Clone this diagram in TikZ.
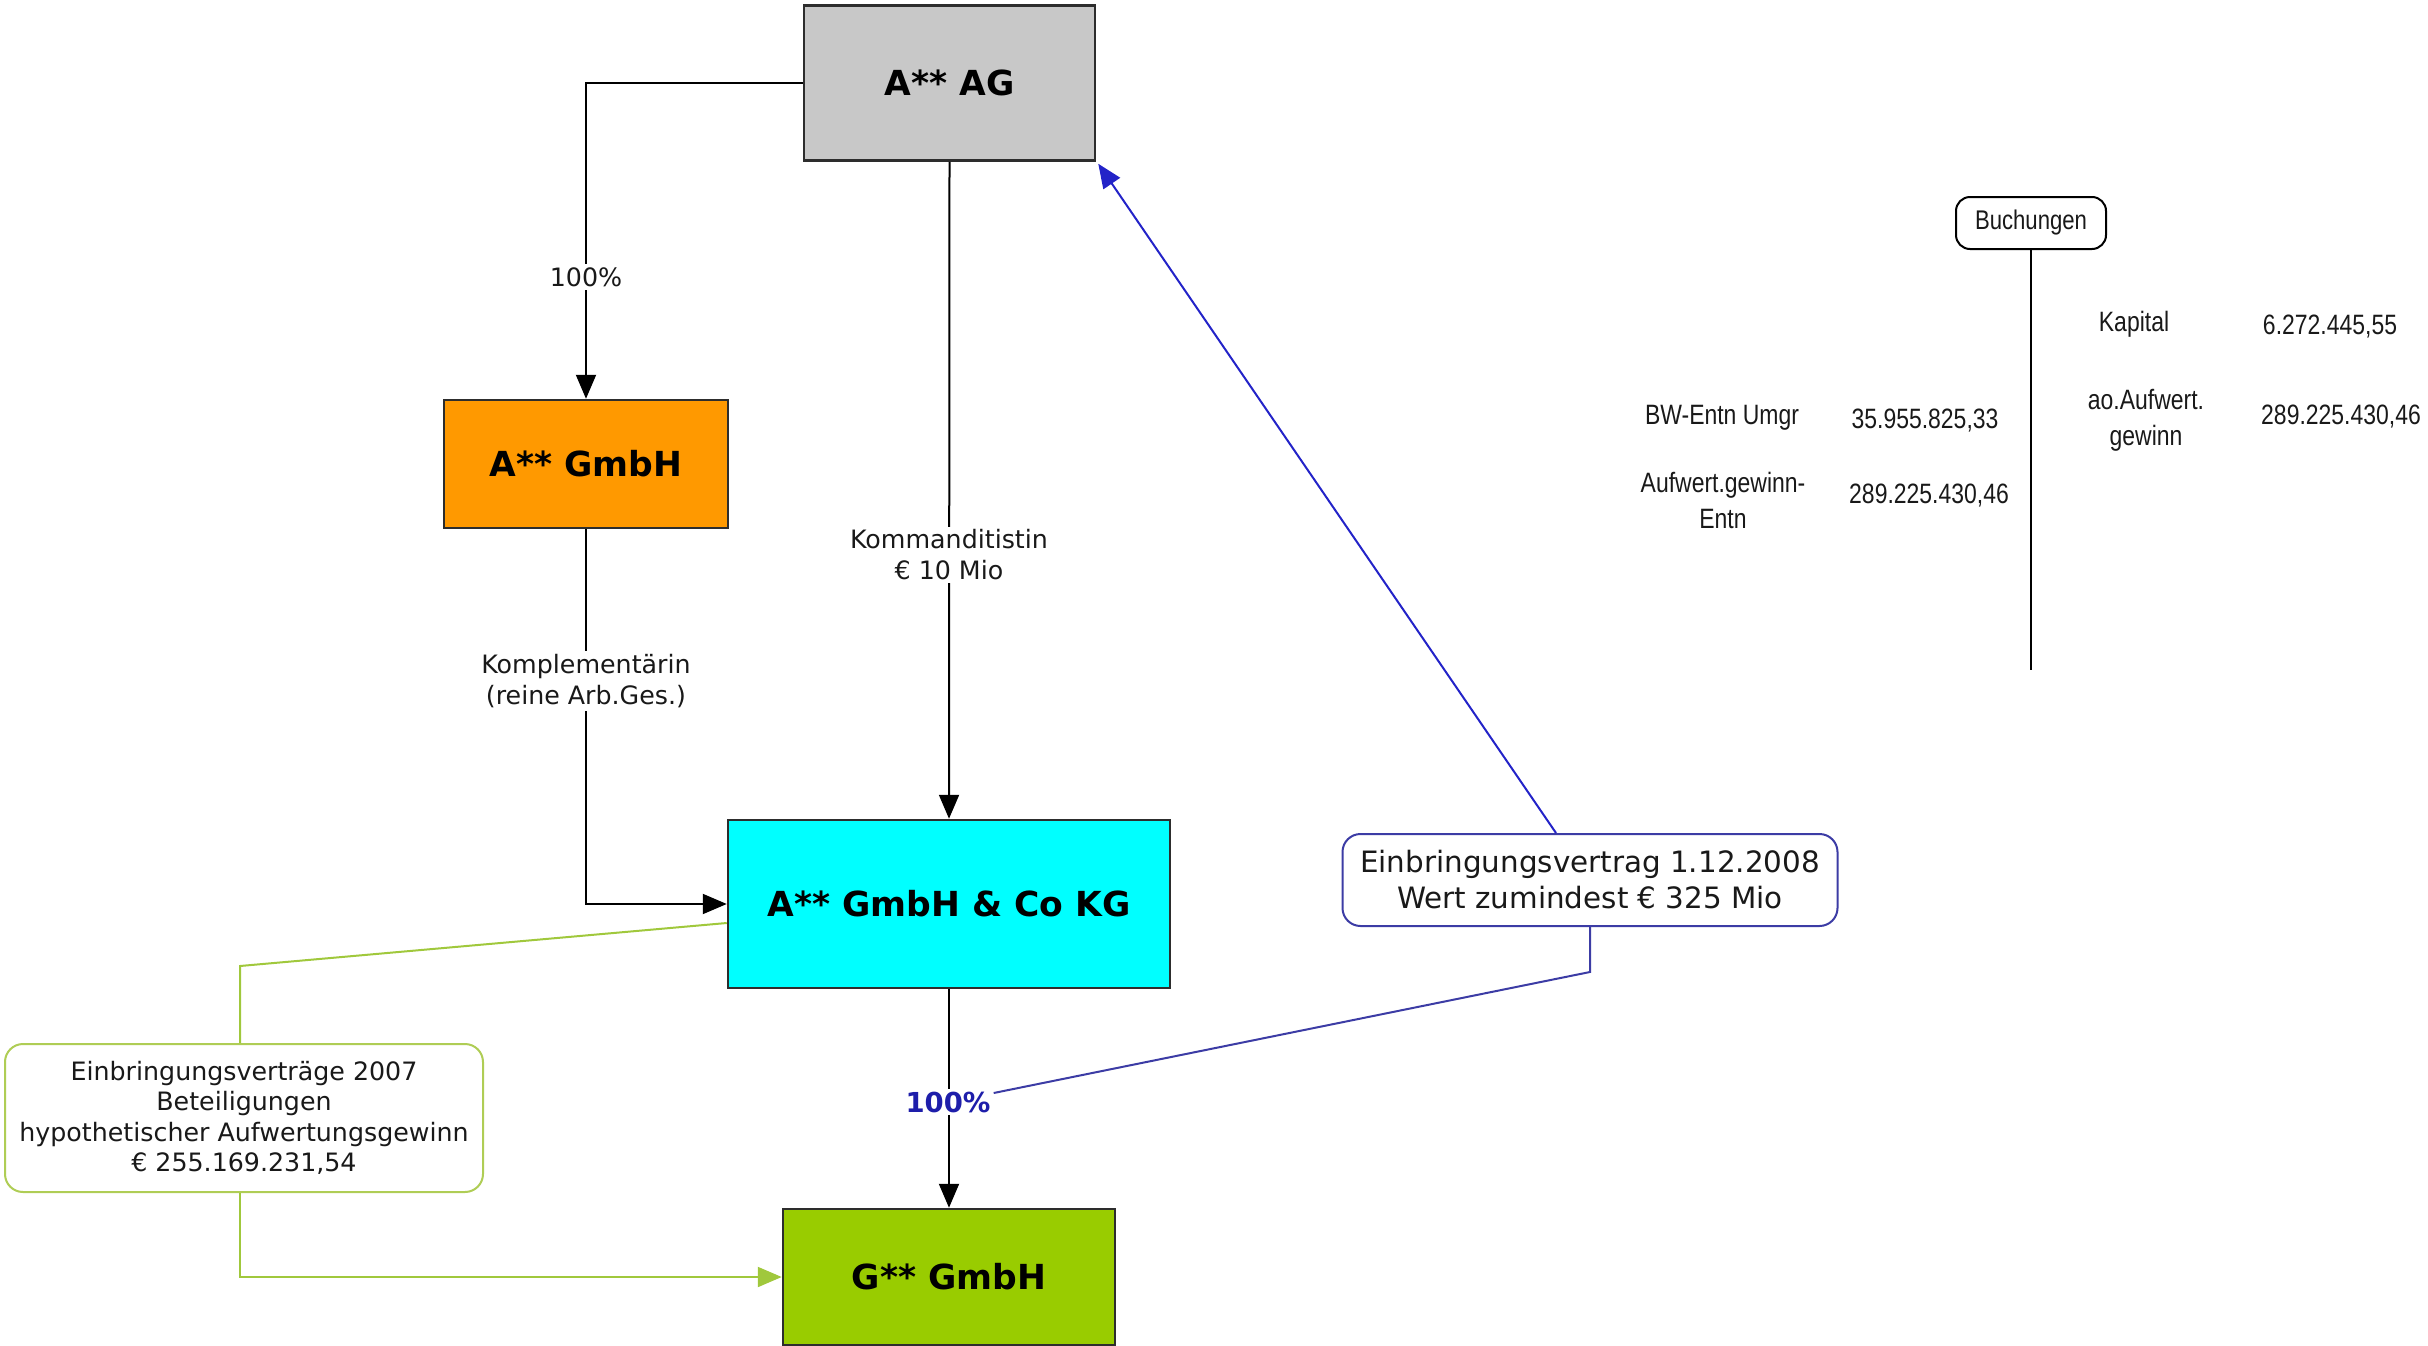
\documentclass[tikz,border=0pt]{standalone}
\usepackage{fontspec}
\setmainfont{DejaVu Sans}
\newfontfamily\narrowfont[FakeStretch=0.82]{Liberation Sans}
\usetikzlibrary{arrows.meta}

\definecolor{boxline}{RGB}{45,45,45}
\definecolor{aggray}{RGB}{200,200,200}
\definecolor{gmbhorange}{RGB}{255,153,0}
\definecolor{kgcyan}{RGB}{0,255,255}
\definecolor{ggreen}{RGB}{153,204,0}
\definecolor{connblue}{RGB}{35,35,200}
\definecolor{pctblue}{RGB}{30,30,170}
\definecolor{evline}{RGB}{60,60,165}
\definecolor{connlime}{RGB}{160,200,60}
\definecolor{notelime}{RGB}{175,205,85}
\definecolor{txt}{RGB}{25,25,25}

\begin{document}
\begin{tikzpicture}[x=1pt,y=-1pt,
  entity/.style={draw=boxline, line width=2.5pt, inner sep=0pt,
    font=\fontsize{34.5}{40}\selectfont\bfseries, text=black},
  conn/.style={draw=black, line width=2pt},
  tip/.style={-{Triangle[length=24pt,width=20pt]}},
  lbl/.style={fill=white, inner sep=3pt, align=center, text=txt,
    font=\fontsize{25.3}{31}\selectfont},
  note/.style={draw, line width=2pt, rounded corners=18pt, fill=white,
    align=center, text=txt, inner sep=0pt},
  booking/.style={font=\narrowfont\fontsize{28}{36}\selectfont, text=txt,
    align=center, inner sep=0pt}
]
\useasboundingbox (0,0) rectangle (2428,1346);

% companies
\node[entity, fill=aggray, minimum width=291pt, minimum height=155pt] (ag) at (949.5,83) {A** AG};
\node[entity, fill=gmbhorange, minimum width=284pt, minimum height=128pt] (gmbh) at (586,464) {A** GmbH};
\node[entity, fill=kgcyan, minimum width=442pt, minimum height=168pt] (kg) at (949,904) {A** GmbH \& Co KG};
\node[entity, fill=ggreen, minimum width=332pt, minimum height=136pt] (g) at (949,1277) {G** GmbH};

% contract notes
\node[note, draw=evline, minimum width=495pt, minimum height=92pt,
  font=\fontsize{29.4}{36}\selectfont] (ev) at (1590,880)
  {Einbringungsvertrag 1.12.2008\\Wert zumindest € 325 Mio};
\node[note, draw=notelime, minimum width=478pt, minimum height=148pt,
  font=\fontsize{25.3}{30.5}\selectfont] (gb) at (244,1118)
  {Einbringungsverträge 2007\\Beteiligungen\\hypothetischer Aufwertungsgewinn\\€ 255.169.231,54};

% shareholdings
\draw[conn, tip] (ag.west) -| (gmbh.north);
\draw[conn, tip] (ag.south) -- (kg.north);
\draw[conn, tip] (gmbh.south) |- (kg.west);
\draw[conn, tip] (kg.south) -- (g.north);

\node[lbl] (p1) at (586,277) {100\%};
\node[lbl] (kd) at (949,555) {Kommanditistin\\€ 10 Mio};
\node[lbl] (kp) at (586,681) {Komplementärin\\(reine Arb.Ges.)};
\node[fill=white, inner sep=3pt, text=pctblue, font=\fontsize{27.5}{32}\selectfont\bfseries] (pct) at (948,1102) {100\%};

% contribution 2008
\draw[draw=connblue, line width=2pt, -{Triangle[length=24pt,width=20pt]}, color=connblue]
  ([xshift=-34pt]ev.north) -- ([xshift=2pt,yshift=-2pt]ag.south east);
\draw[draw=evline, line width=2pt] (ev.south) -- ++(0,45) -- ([yshift=9pt]pct.east);

% contributions 2007
\draw[draw=connlime, line width=2pt] ([yshift=-19pt]kg.west) -- ([xshift=-4pt,yshift=77pt]gb.north) -- ([xshift=-4pt]gb.north);
\draw[draw=connlime, line width=2pt, -{Triangle[length=24pt,width=20pt]}, color=connlime]
  ([xshift=-4pt]gb.south) |- (g.west);

% bookings
\node[draw=black, line width=2pt, rounded corners=14pt, minimum width=150pt, minimum height=52pt,
  inner sep=0pt, font=\narrowfont\fontsize{27}{32}\selectfont, text=txt] (buch) at (2031,223) {Buchungen};
\coordinate (buchend) at (2031,670);
\draw[line width=2pt] (buch.south) -- (buch.south |- buchend);

\node[booking] (kap) at (2134,324) {Kapital};
\node[booking] (kapv) at (2330,327) {6.272.445,55};
\node[booking] (bw) at (1722,418) {BW-Entn Umgr};
\node[booking] (bwv) at (1925,421) {35.955.825,33};
\node[booking] (ao) at (2146,420) {ao.Aufwert.\\gewinn};
\node[booking] (aov) at (2341,417) {289.225.430,46};
\node[booking] (ae) at (1723,500) {Aufwert.gewinn-\\Entn};
\node[booking] (aev) at (1929,496) {289.225.430,46};
\end{tikzpicture}
\end{document}
